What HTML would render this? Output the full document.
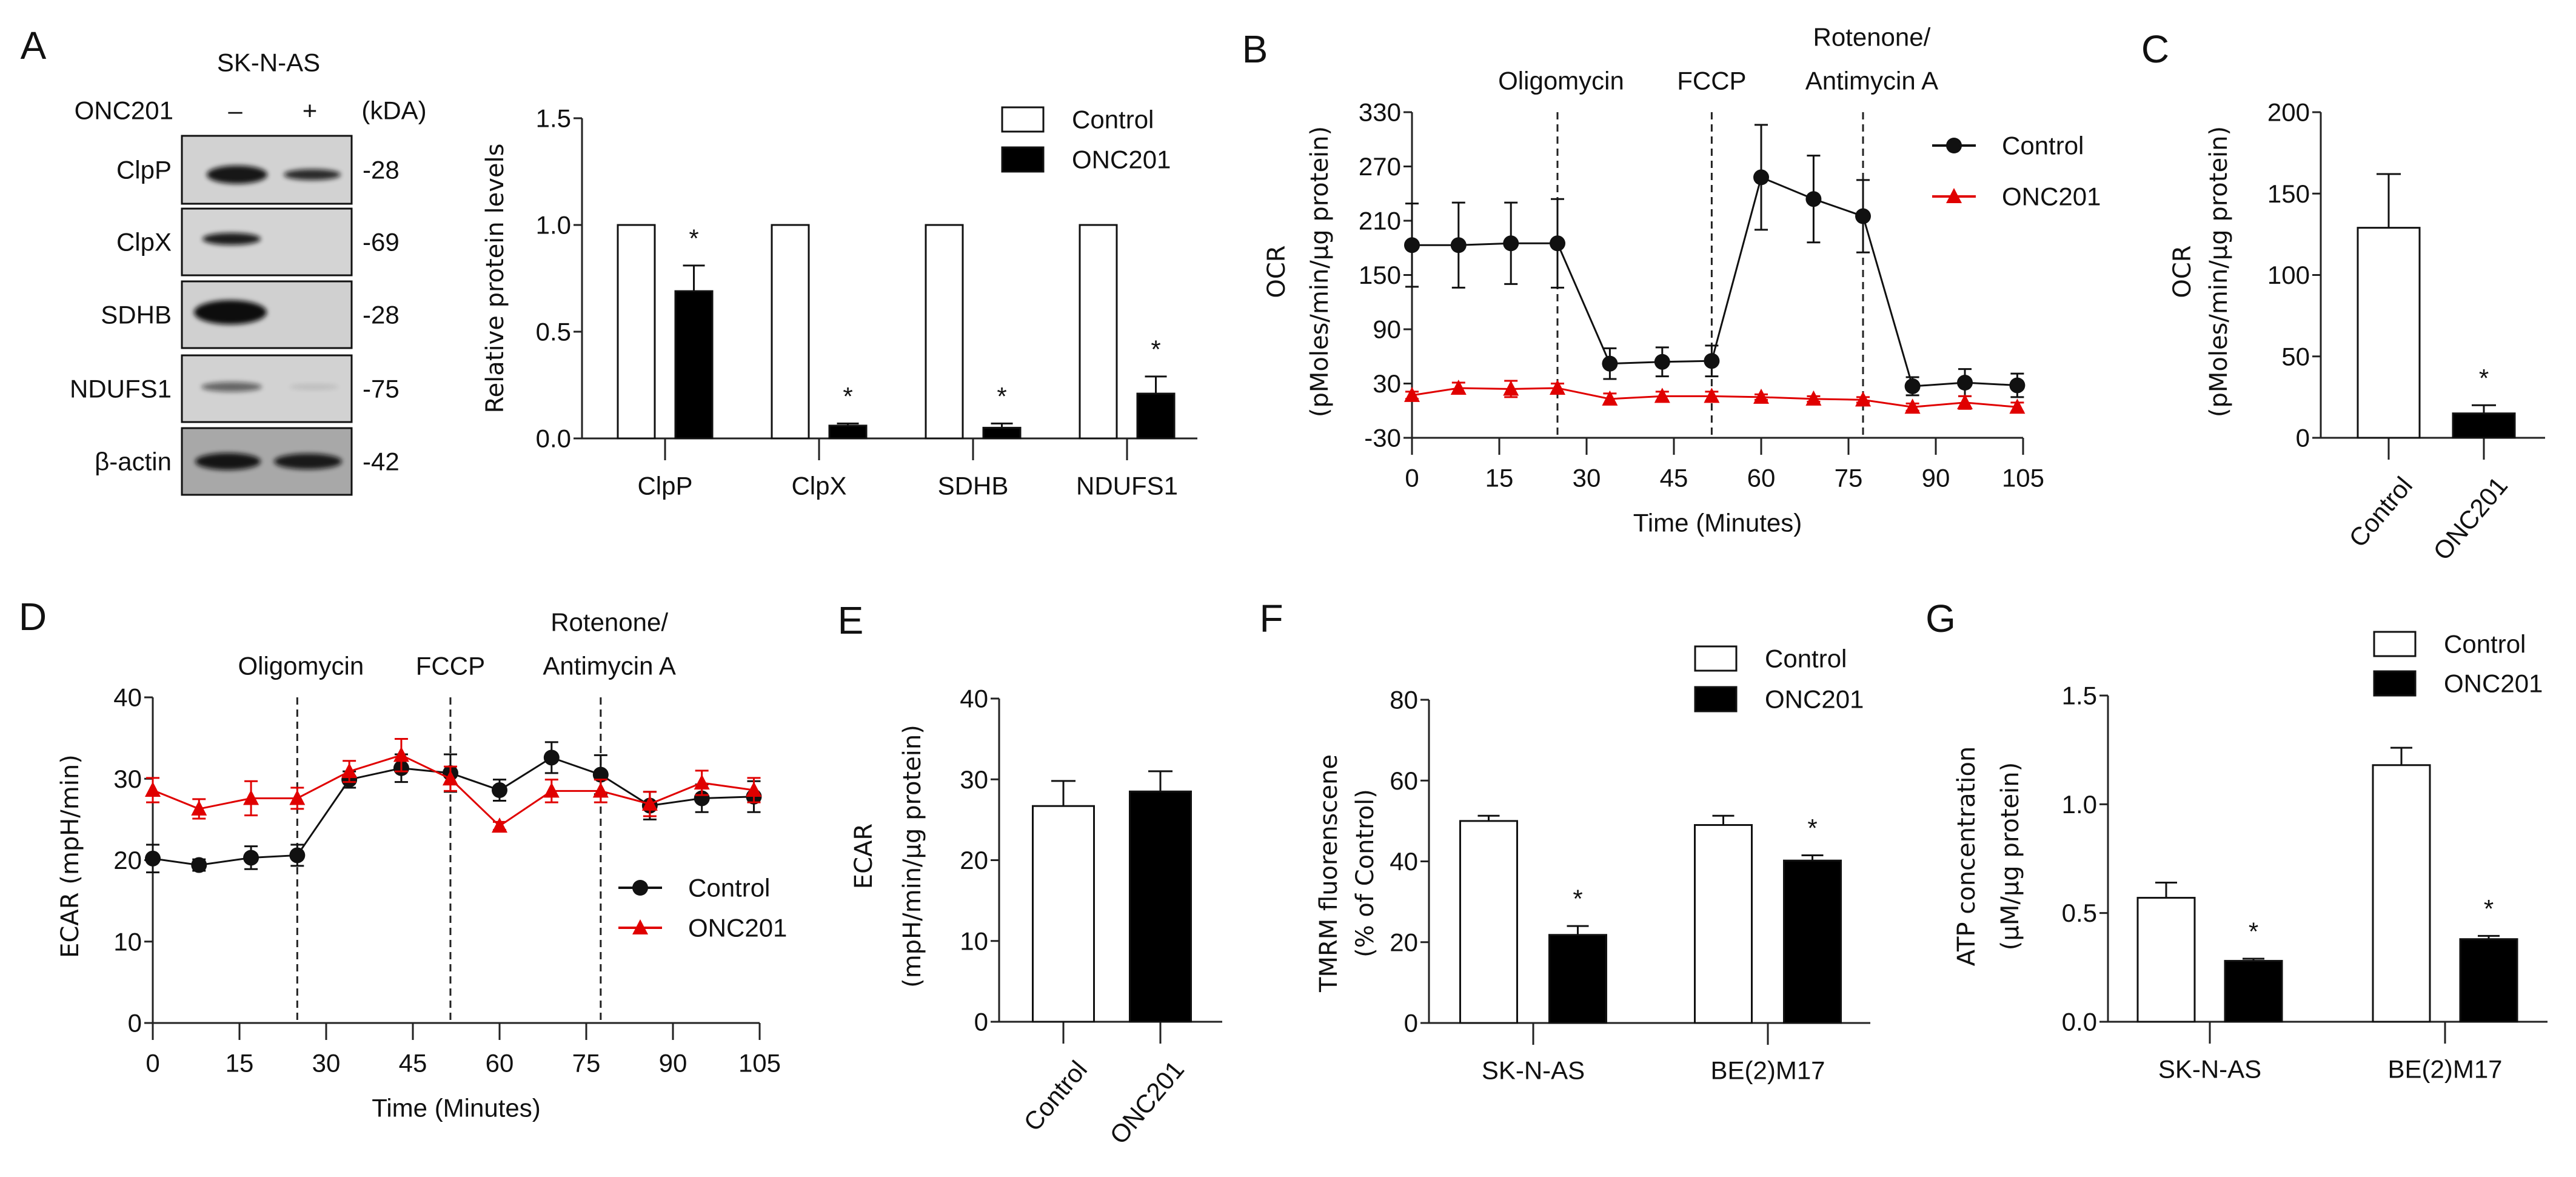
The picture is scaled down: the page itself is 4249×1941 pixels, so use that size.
<!DOCTYPE html>
<html><head><meta charset="utf-8">
<style>
html,body{margin:0;padding:0;background:#fff;}
svg{display:block;}
text{font-family:"Liberation Sans",sans-serif;fill:#111;}
.tk{font-size:42px;}
.yl{font-family:"DejaVu Sans",sans-serif;font-size:40px;}
.pl{font-size:64px;}
</style></head>
<body>
<svg id="fig" width="4249" height="1941" viewBox="0 0 4249 1941" xmlns="http://www.w3.org/2000/svg">
<defs>
<filter id="blur" x="-30%" y="-80%" width="160%" height="260%"><feGaussianBlur stdDeviation="4"/></filter>
</defs>
</svg>
<script>
// ---------- data ----------
const aCats = ["ClpP","ClpX","SDHB","NDUFS1"];
const aCtrl = [1,1,1,1];
const aCtrlErr = [0,0,0,0];
const aOnc = [0.69,0.06,0.05,0.21];
const aOncErr = [0.12,0.01,0.02,0.08];
const aTicks = ["0.0","0.5","1.0","1.5"];

const bTime = [0,8,17,25,34,43,51.5,60,69,77.5,86,95,104];
const bCtrl = [183,183,185,185,52,54,55,258,234,215,27,31,28];
const bCtrlErr = [46,47,45,49,17,16,17,58,48,40,10,15,13];
const bOnc = [17,25,24,25,13,16,16,15,13,12,4,9,4];
const bOncErr = [4,6,9,5,6,5,5,3,3,3,4,7,5];
const bTicks = [-30,30,90,150,210,270,330];
const bXTicks = [0,15,30,45,60,75,90,105];

const cCats = ["Control","ONC201"];
const cVals = [129,15];
const cErr = [33,5];
const cTicks = [0,50,100,150,200];

const dTime = [0,8,17,25,34,43,51.5,60,69,77.5,86,95,104];
const dCtrl = [20.2,19.4,20.3,20.6,29.9,31.3,30.7,28.6,32.6,30.5,26.7,27.6,27.8];
const dCtrlErr = [1.7,0.7,1.4,1.3,1.0,1.7,2.3,1.3,1.9,2.4,1.7,1.7,1.9];
const dOnc = [28.6,26.3,27.6,27.6,30.9,32.9,30.0,24.2,28.5,28.5,26.9,29.5,28.6];
const dOncErr = [1.5,1.2,2.1,1.3,1.3,2.0,1.5,0.5,1.4,1.4,1.5,1.5,1.5];
const dTicks = [0,10,20,30,40];

const eCats = ["Control","ONC201"];
const eVals = [26.7,28.5];
const eErr = [3.1,2.5];
const eTicks = [0,10,20,30,40];

const fCats = ["SK-N-AS","BE(2)M17"];
const fCtrl = [50,49];
const fCtrlErr = [1.3,2.3];
const fOnc = [21.8,40.2];
const fOncErr = [2.2,1.3];
const fTicks = [0,20,40,60,80];

const gCats = ["SK-N-AS","BE(2)M17"];
const gCtrl = [0.57,1.18];
const gCtrlErr = [0.07,0.08];
const gOnc = [0.28,0.38];
const gOncErr = [0.01,0.015];
const gTicks = ["0.0","0.5","1.0","1.5"];

// ---------- helpers ----------
const NS = "http://www.w3.org/2000/svg";
const svg = document.getElementById('fig');
function mk(tag, attrs, parent, txt){
  const el = document.createElementNS(NS, tag);
  for (const k in attrs) el.setAttribute(k, attrs[k]);
  if (txt !== undefined) el.textContent = txt;
  (parent || svg).appendChild(el);
  return el;
}
function lin(d0,d1,r0,r1){ return v => r0 + (v-d0)*(r1-r0)/(d1-d0); }
function grp(name){
  const g = mk('g', {});
  
  
  return g;
}
function txt(g, x, y, s, cls, anchor, name, extra){
  const a = Object.assign({x:x, y:y, class:cls, 'text-anchor':anchor||'middle', 'dominant-baseline':'central'}, extra||{});
  const t = mk('text', a, g, s);
  
  
  return t;
}
function line(g, x1,y1,x2,y2, stroke, w, name, dash){
  const a = {x1:x1,y1:y1,x2:x2,y2:y2,stroke:stroke,'stroke-width':w};
  if (dash) a['stroke-dasharray'] = dash;
  const l = mk('line', a, g);
  
  
  return l;
}
function yAxis(g, x, yS, ticks, y0, y1, name){
  line(g, x, y0, x, y1, '#222', 3, name+'-line');
  ticks.forEach(t => {
    const y = yS(parseFloat(t));
    line(g, x-14, y, x, y, '#222', 3, name+'-tick');
    txt(g, x-18, y, String(t), 'tk', 'end', name+'-tick-label');
  });
}
function errBar(g, x, yTop, yBase, color, name, cap){
  line(g, x, yBase, x, yTop, color, 3, name);
  line(g, x-cap, yTop, x+cap, yTop, color, 3, name+'-cap');
}
function star(g, x, y){ txt(g, x, y, '*', 'tk', 'middle', 'significance-star', {'font-size':'52'}); }
function rect(g, x,y,w,h, fill, name){
  const r = mk('rect', {x:x,y:y,width:w,height:h,fill:fill,stroke:'#111','stroke-width':3}, g);
  
  
  return r;
}
function legendBox(g, x, y, fill, label){
  rect(g, x, y, 68, 40, fill, 'legend-swatch');
  txt(g, x+115, y+20, label, 'tk', 'start', 'legend-label');
}

// ---------- Panel A blot ----------
(function(){
  const g = grp('panel-a-western-blot');
  txt(g, 55, 75, 'A', 'pl', 'middle', 'panel-label-a');
  txt(g, 443, 103, 'SK-N-AS', 'tk', 'middle', 'cell-line-label');
  txt(g, 286, 182, 'ONC201', 'tk', 'end', 'treatment-label');
  txt(g, 388, 182, '–', 'tk', 'middle', 'minus-label');
  txt(g, 511, 182, '+', 'tk', 'middle', 'plus-label');
  txt(g, 650, 182, '(kDA)', 'tk', 'middle', 'kda-label');
  // bands: [cx, opacity, rx, ry, cy]
  const rows = [
    {n:'ClpP', k:'-28', y:224, h:112, b:[[391,0.95,50,15,288],[515,0.85,47,9,288]], bg:'#d2d2d2'},
    {n:'ClpX', k:'-69', y:344, h:110, b:[[382,0.92,48,10,394]], bg:'#d4d4d4'},
    {n:'SDHB', k:'-28', y:464, h:110, b:[[380,1,60,20,515]], bg:'#d0d0d0'},
    {n:'NDUFS1', k:'-75', y:586, h:110, b:[[382,0.55,50,8,638],[518,0.12,40,4,638]], bg:'#d2d2d2'},
    {n:'β-actin', k:'-42', y:706, h:110, b:[[376,0.95,54,14,761],[508,0.92,56,13,761]], bg:'#a8a8a8'}
  ];
  rows.forEach(r => {
    rect(g, 300, r.y, 280, r.h, r.bg, 'blot-'+r.n);
    r.b.forEach(b => {
      const e = mk('ellipse', {cx:b[0], cy:b[4], rx:b[2], ry:b[3], fill:'#111', opacity:b[1], filter:'url(#blur)'}, g);
      
      
    });
    txt(g, 283, r.y+r.h/2, r.n, 'tk', 'end', 'blot-row-label');
    txt(g, 598, r.y+r.h/2, r.k, 'tk', 'start', 'kda-marker');
  });
})();

// ---------- grouped bar chart ----------
function groupedBars(o){
  const g = grp(o.name);
  const yS = lin(o.dom[0], o.dom[1], o.y0, o.y1);
  yAxis(g, o.x0, yS, o.ticks, o.y0, o.y1, 'y-axis');
  line(g, o.x0, o.y0, o.xEnd, o.y0, '#222', 3, 'x-axis-line');
  o.cats.forEach((c, i) => {
    const cx = o.c0 + i*o.step;
    line(g, cx, o.y0, cx, o.y0+36, '#222', 3, 'x-axis-tick');
    txt(g, cx, o.y0+78, c, 'tk', 'middle', 'category-label');
    const xs = [cx - o.gap/2 - o.bw, cx + o.gap/2];
    [[o.ctrl,o.ctrlErr,'#fff'],[o.onc,o.oncErr,'#000']].forEach((s, j) => {
      const v = s[0][i], top = yS(v);
      const bx = xs[j];
      rect(g, bx, top, o.bw, o.y0-top, s[2], j ? 'bar-onc201-'+c : 'bar-control-'+c);
      if (s[1][i] > 0) {
        const et = yS(v + s[1][i]);
        errBar(g, bx+o.bw/2, et, top, '#111', 'error-bar', 18);
      }
      if (j === 1 && o.stars) star(g, bx+o.bw/2, yS(v + s[1][i]) - 45);
    });
  });
  return {g, yS};
}

// Panel A chart
(function(){
  const r = groupedBars({name:'panel-a-bar-chart', cats:aCats, ctrl:aCtrl, ctrlErr:aCtrlErr, onc:aOnc, oncErr:aOncErr,
    ticks:aTicks, dom:[0,1.5], y0:723, y1:195, x0:960, xEnd:1975, c0:1097, step:254, bw:61, gap:34, stars:true});
  txt(r.g, 817, 459, 'Relative protein levels', 'yl', 'middle', 'y-axis-title', {transform:'rotate(-90 817 459)'});
  legendBox(r.g, 1653, 177, '#fff', 'Control');
  legendBox(r.g, 1653, 243, '#000', 'ONC201');
})();

// Panel F
(function(){
  const r = groupedBars({name:'panel-f-tmrm-chart', cats:fCats, ctrl:fCtrl, ctrlErr:fCtrlErr, onc:fOnc, oncErr:fOncErr,
    ticks:fTicks, dom:[0,80], y0:1687, y1:1154, x0:2357, xEnd:3085, c0:2529, step:387, bw:94, gap:53, stars:true});
  txt(r.g, 2097, 1020, 'F', 'pl', 'middle', 'panel-label-f');
  txt(r.g, 2192, 1440, 'TMRM fluorenscene', 'yl', 'middle', 'y-axis-title', {transform:'rotate(-90 2192 1440)'});
  txt(r.g, 2252, 1440, '(% of Control)', 'yl', 'middle', 'y-axis-subtitle', {transform:'rotate(-90 2252 1440)'});
  legendBox(r.g, 2796, 1066, '#fff', 'Control');
  legendBox(r.g, 2796, 1133, '#000', 'ONC201');
})();

// Panel G
(function(){
  const r = groupedBars({name:'panel-g-atp-chart', cats:gCats, ctrl:gCtrl, ctrlErr:gCtrlErr, onc:gOnc, oncErr:gOncErr,
    ticks:gTicks, dom:[0,1.5], y0:1685, y1:1147, x0:3477, xEnd:4202, c0:3645, step:388, bw:94, gap:50, stars:true});
  txt(r.g, 3201, 1020, 'G', 'pl', 'middle', 'panel-label-g');
  txt(r.g, 3244, 1412, 'ATP concentration', 'yl', 'middle', 'y-axis-title', {transform:'rotate(-90 3244 1412)'});
  txt(r.g, 3316, 1412, '(µM/µg protein)', 'yl', 'middle', 'y-axis-subtitle', {transform:'rotate(-90 3316 1412)'});
  legendBox(r.g, 3916, 1042, '#fff', 'Control');
  legendBox(r.g, 3916, 1107, '#000', 'ONC201');
})();

// ---------- simple two-bar charts (C, E) ----------
function twoBars(o){
  const g = grp(o.name);
  const yS = lin(o.dom[0], o.dom[1], o.y0, o.y1);
  yAxis(g, o.x0, yS, o.ticks, o.y0, o.y1, 'y-axis');
  line(g, o.x0, o.y0, o.xEnd, o.y0, '#222', 3, 'x-axis-line');
  o.cats.forEach((c, i) => {
    const cx = o.c0 + i*o.step;
    line(g, cx, o.y0, cx, o.y0+36, '#222', 3, 'x-axis-tick');
    txt(g, cx+18, o.y0+60, c, 'tk', 'end', 'category-label', {transform:'rotate(-50 '+(cx+18)+' '+(o.y0+60)+')', 'dominant-baseline':'hanging'});
    const top = yS(o.vals[i]);
    rect(g, cx-o.bw/2, top, o.bw, o.y0-top, i ? '#000' : '#fff', 'bar-'+c);
    const et = yS(o.vals[i] + o.err[i]);
    errBar(g, cx, et, top, '#111', 'error-bar', 20);
    if (o.starIdx === i) star(g, cx, et-45);
  });
  return g;
}
(function(){
  const g = twoBars({name:'panel-c-ocr-bar-chart', cats:cCats, vals:cVals, err:cErr, ticks:cTicks, dom:[0,200],
    y0:722, y1:185, x0:3828, xEnd:4198, c0:3940, step:157, bw:102, starIdx:1});
  txt(g, 3555, 81, 'C', 'pl', 'middle', 'panel-label-c');
  txt(g, 3600, 448, 'OCR', 'yl', 'middle', 'y-axis-title', {transform:'rotate(-90 3600 448)'});
  txt(g, 3660, 448, '(pMoles/min/µg protein)', 'yl', 'middle', 'y-axis-subtitle', {transform:'rotate(-90 3660 448)'});
})();
(function(){
  const g = twoBars({name:'panel-e-ecar-bar-chart', cats:eCats, vals:eVals, err:eErr, ticks:eTicks, dom:[0,40],
    y0:1685, y1:1152, x0:1648, xEnd:2016, c0:1754, step:160, bw:101, starIdx:-1});
  txt(g, 1403, 1023, 'E', 'pl', 'middle', 'panel-label-e');
  txt(g, 1425, 1412, 'ECAR', 'yl', 'middle', 'y-axis-title', {transform:'rotate(-90 1425 1412)'});
  txt(g, 1505, 1412, '(mpH/min/µg protein)', 'yl', 'middle', 'y-axis-subtitle', {transform:'rotate(-90 1505 1412)'});
})();

// ---------- line charts (B, D) ----------
function lineChart(o){
  const g = grp(o.name);
  const yS = lin(o.dom[0], o.dom[1], o.y0, o.y1);
  const xS = lin(0, 105, o.x0, o.x1);
  yAxis(g, o.x0, yS, o.ticks, o.y0, o.y1, 'y-axis');
  line(g, o.x0, o.y0, o.x1, o.y0, '#222', 3, 'x-axis-line');
  bXTicks.forEach(t => {
    line(g, xS(t), o.y0, xS(t), o.y0+28, '#222', 3, 'x-axis-tick');
    txt(g, xS(t), o.y0+66, String(t), 'tk', 'middle', 'x-axis-tick-label');
  });
  txt(g, xS(52.5), o.y0+140, 'Time (Minutes)', 'tk', 'middle', 'x-axis-title');
  [25, 51.5, 77.5].forEach(t => line(g, xS(t), o.y1, xS(t), o.y0, '#222', 3, 'injection-line', '12,8'));
  txt(g, xS(25)+6, o.y1-52, 'Oligomycin', 'tk', 'middle', 'annotation-oligomycin');
  txt(g, xS(51.5), o.y1-52, 'FCCP', 'tk', 'middle', 'annotation-fccp');
  txt(g, xS(79), o.y1-52, 'Antimycin A', 'tk', 'middle', 'annotation-antimycin');
  txt(g, xS(79), o.y1-124, 'Rotenone/', 'tk', 'middle', 'annotation-rotenone');
  const series = [[o.t, o.ctrl, o.ctrlErr, '#111', 'control'], [o.t, o.onc, o.oncErr, '#e00000', 'onc201']];
  series.forEach(s => {
    const pts = s[0].map((t,i) => xS(t)+','+yS(s[1][i])).join(' ');
    const pl = mk('polyline', {points:pts, fill:'none', stroke:s[3], 'stroke-width':3}, g);
    
    
    s[0].forEach((t,i) => {
      const x = xS(t), v = s[1][i], e = s[2][i];
      line(g, x, yS(v-e), x, yS(v+e), s[3], 3, 'error-bar-'+s[4]);
      line(g, x-11, yS(v+e), x+11, yS(v+e), s[3], 3, 'error-cap');
      line(g, x-11, yS(v-e), x+11, yS(v-e), s[3], 3, 'error-cap');
      if (s[4] === 'control') {
        const c = mk('circle', {cx:x, cy:yS(v), r:13, fill:'#111'}, g);
        
        
      } else {
        const y = yS(v);
        const p = mk('polygon', {points:(x-13)+','+(y+11)+' '+(x+13)+','+(y+11)+' '+x+','+(y-14), fill:'#e00000'}, g);
        
        
      }
    });
  });
  // legend
  const lx = o.lx, ly = o.ly;
  line(g, lx, ly, lx+72, ly, '#111', 4, 'legend-line-control');
  const lc = mk('circle', {cx:lx+36, cy:ly, r:13, fill:'#111'}, g);
  
  
  txt(g, lx+115, ly, 'Control', 'tk', 'start', 'legend-label');
  line(g, lx, ly+o.lgap, lx+72, ly+o.lgap, '#e00000', 4, 'legend-line-onc201');
  const lt = mk('polygon', {points:(lx+23)+','+(ly+o.lgap+11)+' '+(lx+49)+','+(ly+o.lgap+11)+' '+(lx+36)+','+(ly+o.lgap-14), fill:'#e00000'}, g);
  
  
  txt(g, lx+115, ly+o.lgap, 'ONC201', 'tk', 'start', 'legend-label');
  return g;
}
(function(){
  const g = lineChart({name:'panel-b-ocr-line-chart', t:bTime, ctrl:bCtrl, ctrlErr:bCtrlErr, onc:bOnc, oncErr:bOncErr,
    ticks:bTicks, dom:[-30,330], y0:722, y1:185, x0:2329, x1:3337, lx:3187, ly:240, lgap:84});
  txt(g, 2070, 81, 'B', 'pl', 'middle', 'panel-label-b');
  txt(g, 2106, 448, 'OCR', 'yl', 'middle', 'y-axis-title', {transform:'rotate(-90 2106 448)'});
  txt(g, 2177, 448, '(pMoles/min/µg protein)', 'yl', 'middle', 'y-axis-subtitle', {transform:'rotate(-90 2177 448)'});
})();
(function(){
  const g = lineChart({name:'panel-d-ecar-line-chart', t:dTime, ctrl:dCtrl, ctrlErr:dCtrlErr, onc:dOnc, oncErr:dOncErr,
    ticks:dTicks, dom:[0,40], y0:1687, y1:1150, x0:252, x1:1253, lx:1020, ly:1464, lgap:66});
  txt(g, 54, 1017, 'D', 'pl', 'middle', 'panel-label-d');
  txt(g, 116, 1412, 'ECAR (mpH/min)', 'yl', 'middle', 'y-axis-title', {transform:'rotate(-90 116 1412)'});
})();
</script>
</body></html>
